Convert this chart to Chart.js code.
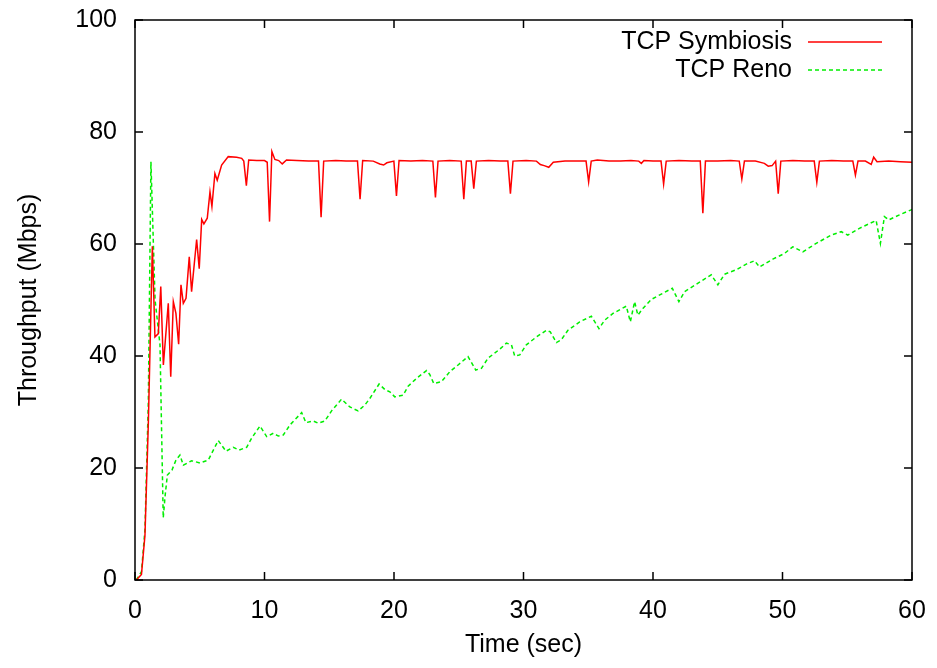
<!DOCTYPE html>
<html>
<head>
<meta charset="utf-8">
<script src="https://cdn.jsdelivr.net/npm/chart.js@4.4.1/dist/chart.umd.min.js"></script>
<style>
  html, body { margin: 0; padding: 0; background: #fff; }
  #wrap { width: 937px; height: 668px; }
</style>
</head>
<body>
<div id="wrap"><canvas id="throughputChart"></canvas></div>
<script>
const seriesNames = ['TCP Symbiosis', 'TCP Reno'];
const xTicks = [0, 10, 20, 30, 40, 50, 60];
const yTicks = [0, 20, 40, 60, 80, 100];

// TCP Symbiosis
const symTime = [
    0.1, 0.5, 0.77, 1.03, 1.34, 1.54, 1.8, 1.99, 2.19, 2.57, 2.76, 2.96, 3.16, 3.37, 3.55, 3.73, 3.94,
    4.19, 4.37, 4.76, 4.96, 5.15, 5.32, 5.58, 5.79, 5.94, 6.17, 6.35, 6.69, 7.2, 7.85, 8.24, 8.4,
    8.6, 8.78, 9.4, 10.0, 10.21, 10.39, 10.57, 10.8, 11.1, 11.37, 11.7, 12.5, 13.4, 14.17, 14.37,
    14.57, 15.5, 16.3, 17.18, 17.38, 17.58, 18.4, 18.9, 19.2, 19.45, 19.99, 20.19, 20.39, 21.3,
    22.2, 23.0, 23.2, 23.4, 24.3, 25.19, 25.39, 25.59, 25.96, 26.16, 26.36, 27.3, 28.2, 28.79,
    28.99, 29.19, 30.2, 31.0, 31.3, 31.6, 31.95, 32.3, 33.2, 34.1, 34.83, 35.03, 35.23, 35.7, 36.6,
    37.5, 38.3, 38.9, 39.1, 39.3, 40.0, 40.62, 40.82, 41.02, 42.0, 43.0, 43.65, 43.85, 44.05, 45.0,
    46.0, 46.66, 46.86, 47.06, 47.9, 48.6, 48.9, 49.2, 49.47, 49.67, 49.87, 50.8, 51.7, 52.45,
    52.65, 52.85, 53.8, 54.7, 55.43, 55.63, 55.83, 56.4, 56.85, 57.04, 57.3, 58.2, 59.1, 60.0
];
const symValue = [
    0, 1, 8, 28, 59.6, 43.4, 44, 52.4, 38.4, 49.4, 36.3, 49.7, 47.6, 42.1, 52.7, 49.4, 50.3,
    57.7, 51.5, 60.8, 55.6, 64.4, 63.6, 64.6, 69.3, 66.7, 72.6, 71.4, 74.1, 75.6, 75.5, 75.3, 74.8,
    70.4, 75.0, 74.9, 74.9, 74.6, 64.0, 76.5, 75.1, 74.9, 74.3, 75.0, 74.9, 74.8, 74.8, 64.8,
    74.8, 74.9, 74.8, 74.8, 68.0, 74.9, 74.8, 74.3, 74.1, 74.5, 74.8, 68.6, 74.9, 74.8,
    74.9, 74.8, 68.3, 74.8, 74.9, 74.8, 68.0, 74.8, 74.8, 69.9, 74.8, 74.9, 74.8, 74.8,
    69.0, 74.8, 74.9, 74.8, 74.2, 74.0, 73.7, 74.6, 74.8, 74.8, 74.8, 71.1, 74.8, 75.0, 74.8,
    74.8, 74.9, 74.8, 74.4, 74.9, 74.8, 74.8, 70.7, 74.8, 74.9, 74.8, 74.8, 65.5, 74.8, 74.8,
    74.9, 74.8, 71.6, 74.8, 74.8, 74.4, 73.9, 74.0, 74.8, 69.0, 74.8, 74.9, 74.8, 74.8,
    71.0, 74.8, 74.9, 74.8, 74.8, 72.3, 74.8, 74.8, 74.2, 75.5, 74.7, 74.8, 74.7, 74.6
];

// TCP Reno
const renoTime = [
    0.1, 0.5, 0.77, 1.03, 1.23, 1.55, 1.93, 2.18, 2.32, 2.5, 2.85, 3.16, 3.47, 3.73, 4.37, 5.02,
    5.66, 6.05, 6.43, 7.02, 7.59, 8.05, 8.62, 9.0, 9.65, 10.17, 10.68, 11.07, 11.45, 11.97, 12.87,
    13.2, 13.76, 14.15, 14.66, 15.18, 15.95, 16.59, 17.23, 17.75, 18.13, 18.85, 19.3, 19.68, 20.06,
    20.47, 20.7, 21.09, 21.74, 22.51, 22.76, 23.07, 23.66, 24.31, 24.95, 25.72, 26.31, 26.75,
    27.26, 28.16, 28.68, 29.07, 29.32, 29.71, 30.22, 31.0, 31.77, 32.07, 32.54, 32.92, 33.43,
    34.34, 35.24, 35.83, 36.27, 36.91, 37.94, 38.25, 38.58, 38.83, 39.22, 39.87, 40.76, 41.49,
    42.0, 42.44, 43.34, 44.5, 45.01, 45.52, 46.43, 47.2, 47.84, 48.23, 49.25, 50.15, 50.79, 51.57,
    52.6, 53.76, 54.53, 55.04, 55.94, 57.23, 57.56, 57.87, 58.2, 59.03, 59.93, 60.0
];
const renoValue = [
    0, 1.5, 9, 32, 74.7, 50, 42, 11.1, 14.9, 18.75, 19.6, 21.4, 22.3, 20.5, 21.3, 20.9,
    21.4, 23.2, 24.9, 23.0, 23.7, 23.2, 23.7, 25.3, 27.5, 25.6, 26.2, 25.7, 25.9, 27.7, 29.9,
    28.1, 28.4, 28.0, 28.4, 30.2, 32.3, 30.9, 30.2, 31.25, 32.4, 35.0, 34.0, 33.6, 32.7,
    32.9, 33.0, 34.6, 36.0, 37.4, 36.7, 35.1, 35.4, 37.2, 38.4, 39.9, 37.5, 37.8,
    39.6, 41.2, 42.3, 42.0, 40.0, 40.2, 42.0, 43.4, 44.6, 44.3, 42.4, 42.9, 44.6,
    46.1, 47.1, 44.9, 46.4, 47.6, 48.9, 46.1, 49.7, 47.3, 48.5, 50.1, 51.2, 52.1,
    49.7, 51.5, 52.8, 54.5, 52.7, 54.6, 55.4, 56.4, 57.0, 55.9, 57.3, 58.3, 59.5, 58.6,
    60.1, 61.6, 62.2, 61.6, 62.8, 64.2, 60.1, 64.9, 64.3, 65.2, 66.1, 66.2
];

const seriesColors = ['#ff0000', '#00ee00'];
const seriesDash = [[], [4, 3]];

// gnuplot look: closed frame, inward ticks on all sides, legend with line sample on the right
const gnuplotFrame = {
    id: 'gnuplotFrame',
    afterDatasetsDraw(chart) {
        const { ctx, chartArea: a, scales: { x, y } } = chart;
        const tickLen = 8;
        ctx.save();
        ctx.strokeStyle = '#000';
        ctx.lineWidth = 1.5;
        ctx.strokeRect(a.left, a.top, a.right - a.left, a.bottom - a.top);
        ctx.beginPath();
        x.ticks.forEach(t => {
            const px = x.getPixelForValue(t.value);
            ctx.moveTo(px, a.bottom); ctx.lineTo(px, a.bottom - tickLen);
            ctx.moveTo(px, a.top); ctx.lineTo(px, a.top + tickLen);
        });
        y.ticks.forEach(t => {
            const py = y.getPixelForValue(t.value);
            ctx.moveTo(a.left, py); ctx.lineTo(a.left + tickLen, py);
            ctx.moveTo(a.right, py); ctx.lineTo(a.right - tickLen, py);
        });
        ctx.stroke();

        ctx.font = '25px "Liberation Sans", Arial, sans-serif';
        ctx.textAlign = 'right';
        ctx.textBaseline = 'middle';
        chart.data.datasets.forEach((ds, i) => {
            const rowY = a.top + 22 + i * 28;
            ctx.fillStyle = '#000';
            ctx.fillText(ds.label, a.right - 120, rowY);
            ctx.strokeStyle = ds.borderColor;
            ctx.lineWidth = 1.5;
            ctx.setLineDash(ds.borderDash || []);
            ctx.beginPath();
            ctx.moveTo(a.right - 104, rowY);
            ctx.lineTo(a.right - 30, rowY);
            ctx.stroke();
        });
        ctx.restore();
    }
};

document.addEventListener('DOMContentLoaded', function () {
    const ctx = document.getElementById('throughputChart').getContext('2d');
    Chart.defaults.font.family = '"Liberation Sans", Arial, sans-serif';
    Chart.defaults.color = '#000';

    const series = [
        symTime.map((t, i) => ({ x: t, y: symValue[i] })),
        renoTime.map((t, i) => ({ x: t, y: renoValue[i] }))
    ];

    new Chart(ctx, {
        type: 'line',
        data: {
            datasets: seriesNames.map((name, i) => ({
                label: name,
                data: series[i],
                borderColor: seriesColors[i],
                borderWidth: 1.5,
                borderDash: seriesDash[i],
                pointRadius: 0,
                tension: 0,
                fill: false
            }))
        },
        options: {
            responsive: true,
            maintainAspectRatio: false,
            animation: false,
            layout: {
                padding: { top: 20, right: 25, left: 0, bottom: 0 }
            },
            plugins: {
                legend: { display: false },
                tooltip: { enabled: false }
            },
            scales: {
                x: {
                    type: 'linear',
                    min: 0,
                    max: 60,
                    afterBuildTicks: scale => { scale.ticks = xTicks.map(v => ({ value: v })); },
                    afterFit: scale => {
                        scale.height = 88;
                        scale.paddingLeft = 0;
                        scale.paddingRight = 0;
                    },
                    grid: { display: false, drawTicks: false },
                    border: { display: false },
                    ticks: { font: { size: 25 }, padding: 16, maxRotation: 0 },
                    title: {
                        display: true,
                        text: 'Time (sec)',
                        font: { size: 25 },
                        padding: { top: 0, bottom: 8 }
                    }
                },
                y: {
                    min: 0,
                    max: 100,
                    afterBuildTicks: scale => { scale.ticks = yTicks.map(v => ({ value: v })); },
                    afterFit: scale => {
                        scale.width = 135;
                        scale.paddingTop = 0;
                        scale.paddingBottom = 0;
                    },
                    grid: { display: false, drawTicks: false },
                    border: { display: false },
                    ticks: { font: { size: 25 }, padding: 18 },
                    title: {
                        display: true,
                        text: 'Throughput (Mbps)',
                        font: { size: 25 },
                        padding: { top: 14, bottom: 0 }
                    }
                }
            }
        },
        plugins: [gnuplotFrame]
    });
});
</script>
</body>
</html>
